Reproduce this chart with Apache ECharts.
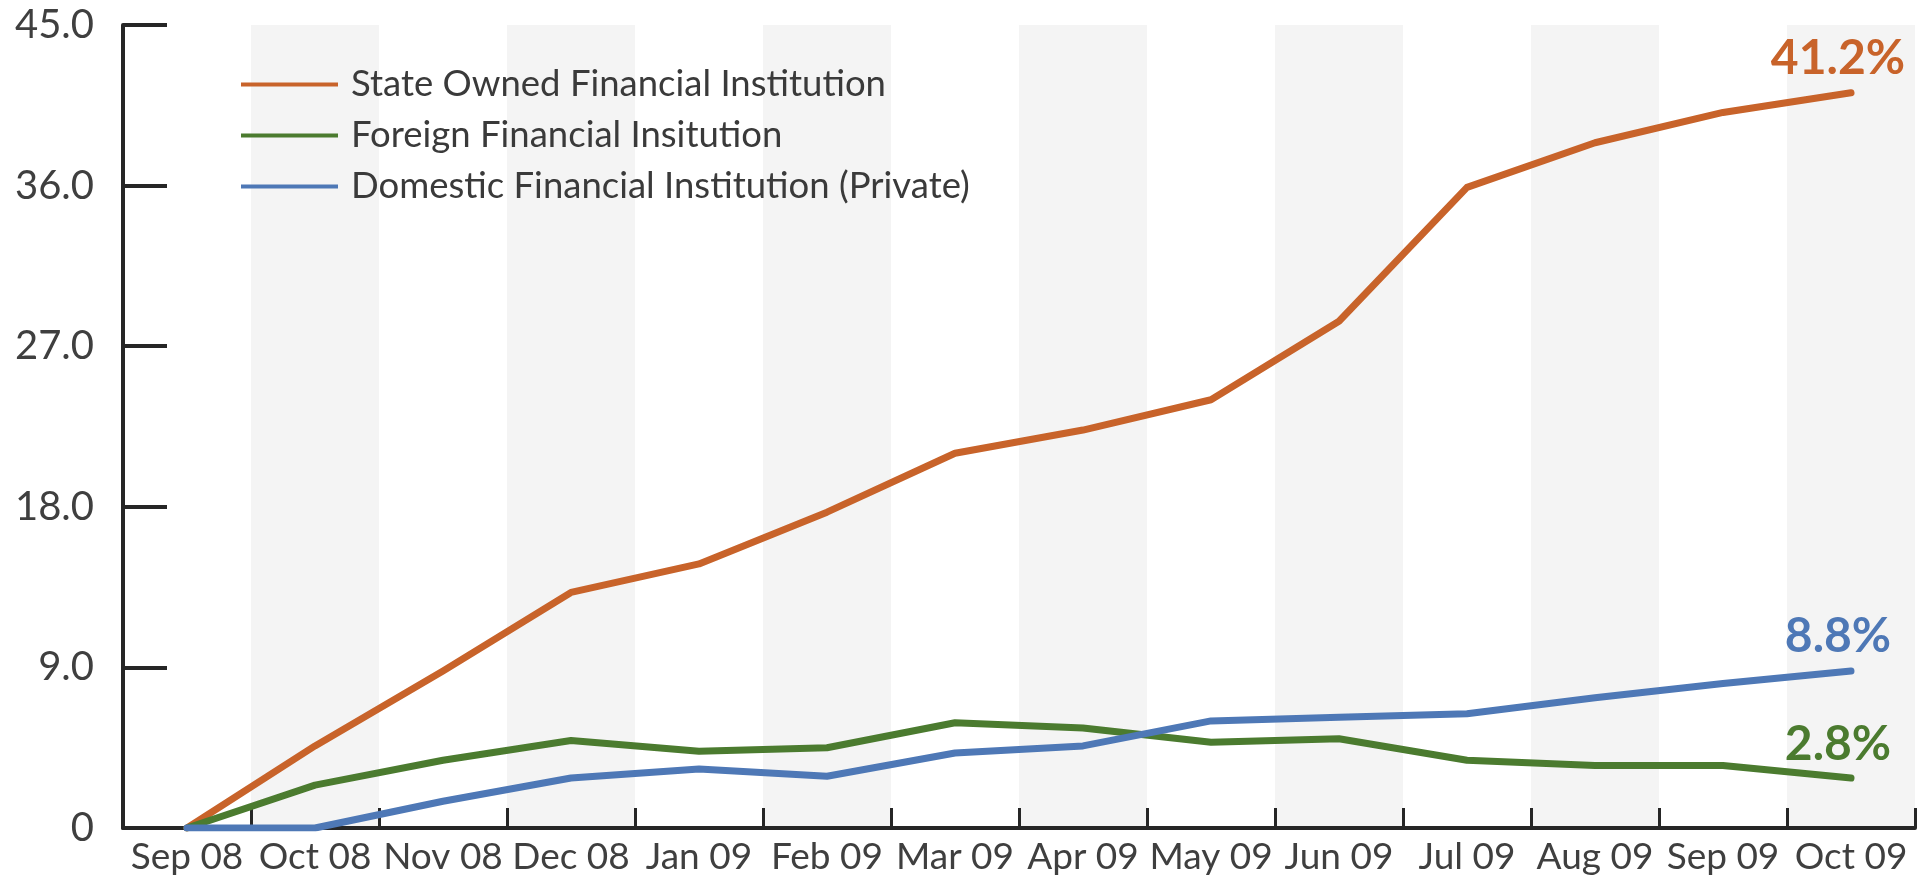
<!DOCTYPE html>
<html>
<head>
<meta charset="utf-8">
<title>Financial institution lending growth</title>
<script src="https://cdn.jsdelivr.net/npm/echarts@6/dist/echarts.min.js"></script>
<style>
  html, body { margin: 0; padding: 0; background: #ffffff; }
  #chart { width: 1918px; height: 877px; }
</style>
</head>
<body>
<div id="chart"></div>
<script>
// Monthly categories, Sep 2008 – Oct 2009
const categories = ['Sep 08', 'Oct 08', 'Nov 08', 'Dec 08', 'Jan 09', 'Feb 09', 'Mar 09',
                    'Apr 09', 'May 09', 'Jun 09', 'Jul 09', 'Aug 09', 'Sep 09', 'Oct 09'];

// Cumulative growth (%) by institution type
const stateOwned = [0, 4.6, 8.8, 13.2, 14.8, 17.7, 21.0, 22.3, 24.0, 28.4, 35.9, 38.4, 40.1, 41.2];
const foreign    = [0, 2.4, 3.8, 4.9, 4.3, 4.5, 5.9, 5.6, 4.8, 5.0, 3.8, 3.5, 3.5, 2.8];
const domestic   = [0, 0, 1.5, 2.8, 3.3, 2.9, 4.2, 4.6, 6.0, 6.2, 6.4, 7.3, 8.1, 8.8];

const seriesNames = [
  'State Owned Financial Institution',
  'Foreign Financial Insitution',
  'Domestic Financial Institution (Private)'
];

// Y axis: 0 to 45 in steps of 9
const yMin = 0, yMax = 45, yStep = 9;

const FONT = 'Lato, "Open Sans", sans-serif';
const colors = ['#C8632A', '#4B7B2F', '#4E78B6'];

// Only the final point carries a value label
function withEndLabel(values) {
  const last = values.length - 1;
  return values.map((v, i) => i === last ? { value: v, label: { show: true } } : v);
}

function lineSeries(name, values, color) {
  return {
    name: name,
    type: 'line',
    data: withEndLabel(values),
    symbol: 'circle',
    symbolSize: 0,
    showSymbol: true,
    lineStyle: { color: color, width: 7, cap: 'round', join: 'round' },
    itemStyle: { color: color },
    emphasis: { disabled: true },
    label: {
      show: false,
      position: 'top',
      distance: 10,
      offset: [-13, 0],
      fontFamily: FONT,
      fontWeight: 'bold',
      fontSize: 48,
      lineHeight: 48,
      color: color,
      formatter: p => p.value.toFixed(1) + '%'
    }
  };
}

const chart = echarts.init(document.getElementById('chart'), null, { renderer: 'canvas' });

chart.setOption({
  animation: false,
  backgroundColor: '#ffffff',
  grid: { left: 123, right: 3, top: 25, bottom: 49, containLabel: false },
  legend: {
    orient: 'vertical',
    left: 236,
    top: 61,
    icon: 'rect',
    itemWidth: 97,
    itemHeight: 4,
    itemGap: 14,
    selectedMode: false,
    data: seriesNames,
    textStyle: {
      fontFamily: FONT,
      fontSize: 36.5,
      lineHeight: 36,
      color: '#3a3a3a',
      padding: [0, 0, 0, 8]
    }
  },
  xAxis: {
    type: 'category',
    data: categories,
    boundaryGap: true,
    axisLine: { show: true, lineStyle: { color: '#262626', width: 4 } },
    axisTick: { show: true, inside: true, length: 20, interval: 0,
                lineStyle: { color: '#262626', width: 3 } },
    axisLabel: { interval: 0, margin: 11, fontFamily: FONT, fontSize: 37, color: '#3f3f3f' },
    splitLine: { show: false },
    splitArea: { show: true, interval: 0,
                 areaStyle: { color: ['rgba(255,255,255,0)', '#f4f4f4'] } }
  },
  yAxis: {
    type: 'value',
    min: yMin,
    max: yMax,
    interval: yStep,
    axisLine: { show: true, lineStyle: { color: '#262626', width: 4 } },
    axisTick: { show: true, inside: true, length: 44,
                lineStyle: { color: '#262626', width: 4 } },
    axisLabel: {
      margin: 29,
      fontFamily: FONT,
      fontSize: 40,
      color: '#3f3f3f',
      formatter: v => v === 0 ? '0' : v.toFixed(1)
    },
    splitLine: { show: false }
  },
  series: [
    lineSeries(seriesNames[0], stateOwned, colors[0]),
    lineSeries(seriesNames[1], foreign, colors[1]),
    lineSeries(seriesNames[2], domestic, colors[2])
  ]
});
</script>
</body>
</html>
